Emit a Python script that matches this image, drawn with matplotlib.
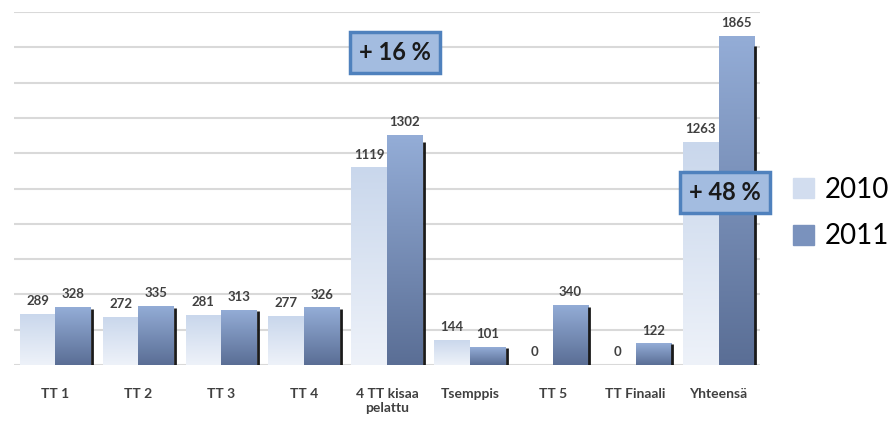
import matplotlib.pyplot as plt
import numpy as np
from matplotlib.colors import LinearSegmentedColormap
from matplotlib.patches import Patch

plt.rcParams['font.family'] = ['Lato', 'DejaVu Sans']

# Osallistujamäärät
kategoriat = ['TT 1', 'TT 2', 'TT 3', 'TT 4', '4 TT kisaa\npelattu',
              'Tsemppis', 'TT 5', 'TT Finaali', 'Yhteensä']
v2010 = [289, 272, 281, 277, 1119, 144, 0, 0, 1263]
v2011 = [328, 335, 313, 326, 1302, 101, 340, 122, 1865]
sarjat = ['2010', '2011']
muutokset = ['+ 16 %', '+ 48 %']

fig = plt.figure(figsize=(8.92, 4.21), dpi=100)
ax = fig.add_axes([0.0157, 0.133, 0.8363, 0.8385])

x = np.arange(len(kategoriat))
w = 0.43

cm10 = LinearSegmentedColormap.from_list('c10', ['#eef2f9', '#c9d7ec'])
cm11 = LinearSegmentedColormap.from_list('c11', ['#5a6e95', '#94add7'])
grad = np.linspace(0, 1, 256).reshape(-1, 1)

bars10 = ax.bar(x - w / 2, v2010, w, color='#d5e0f0', zorder=2)
bars11 = ax.bar(x + w / 2, v2011, w, color='#7f97c2', zorder=2)

# liukuväri pylväisiin
for bars, cm in ((bars10, cm10), (bars11, cm11)):
    for b in bars:
        if b.get_height() <= 0:
            continue
        x0, h = b.get_x(), b.get_height()
        im = ax.imshow(grad, extent=[x0, x0 + b.get_width(), 0, h], origin='lower',
                       aspect='auto', cmap=cm, zorder=3)
        im.set_clip_path(b)

# varjo 2011-pylväiden oikealla puolella
ax.vlines(x + w + 0.012, 0, np.array(v2011) * 0.97, color='#1a1a1a', lw=2, zorder=3)

for xi, v in zip(x - w / 2, v2010):
    ax.annotate(str(v), (xi, v), xytext=(0, 5), textcoords='offset points',
                ha='center', va='bottom', fontsize=9.5, fontweight='bold', color='#404040')
for xi, v in zip(x + w / 2, v2011):
    ax.annotate(str(v), (xi, v), xytext=(0, 5), textcoords='offset points',
                ha='center', va='bottom', fontsize=9.5, fontweight='bold', color='#404040')

ax.set_xlim(-0.5, len(kategoriat) - 0.5)
ax.set_ylim(0, 2000)
ax.set_yticks(np.arange(0, 2001, 200))
ax.yaxis.grid(True, color='#d9d9d9', lw=1.5, zorder=0)
ax.set_axisbelow(True)
ax.tick_params(axis='y', left=False, labelleft=False)
ax.tick_params(axis='x', bottom=False, pad=13)
ax.set_xticks(x)
ax.set_xticklabels(kategoriat, fontsize=10, fontweight='bold', color='#404040')
for s in ax.spines.values():
    s.set_visible(False)

box = dict(boxstyle='square,pad=0.38', facecolor='#a3bce0', edgecolor='#4f81bd', lw=2.5)
ax.text(4.1, 1773, muutokset[0], ha='center', va='center', fontsize=17,
        fontweight='bold', color='#1a1a1a', bbox=box, zorder=5)
ax.text(8.08, 980, muutokset[1], ha='center', va='center', fontsize=17,
        fontweight='bold', color='#1a1a1a', bbox=box, zorder=5)

handles = [Patch(color='#d2ddef'), Patch(color='#7a92bd')]
fig.legend(handles, sarjat, loc='center left', bbox_to_anchor=(0.889, 0.494),
           frameon=False, fontsize=20, handlelength=0.75, handleheight=0.75,
           handletextpad=0.4, labelspacing=0.75, borderpad=0, borderaxespad=0)

fig.savefig('out.png', dpi=100)
